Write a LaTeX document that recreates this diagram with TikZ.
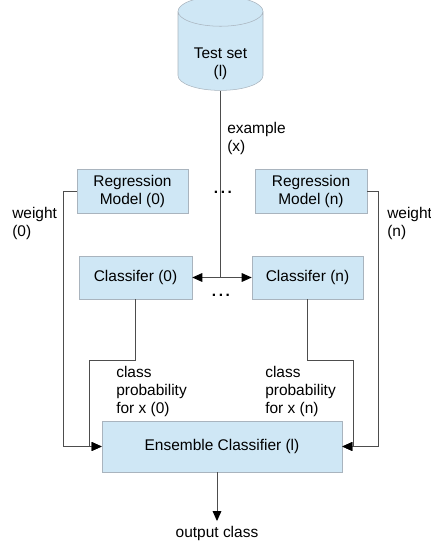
\documentclass[tikz,border=0pt]{standalone}
\usepackage{fontspec}
\setmainfont{Liberation Sans}
\usetikzlibrary{arrows.meta,shapes.geometric}

\definecolor{boxfill}{HTML}{CFE7F5}
\definecolor{boxline}{HTML}{A9B4BE}
\definecolor{wirecol}{HTML}{4D4D4D}

\tikzset{
    every node/.style={font=\fontsize{11.6}{13.5}\selectfont},
    block/.style={draw=boxline, fill=boxfill, align=center, inner sep=0pt, minimum height=33pt},
    tag/.style={align=left, inner sep=0pt, anchor=north west},
    wire/.style={draw=wirecol, line width=0.75pt},
    tip/.tip={Triangle[length=7.5pt,width=6.5pt,color=black]},
    arr/.style={wire, -tip},
}

\begin{document}
\begin{tikzpicture}[x=0.75pt,y=-0.75pt]
        \useasboundingbox (0,0) rectangle (431,547);
        \node[cylinder, shape border rotate=90, aspect=0.56, draw=boxline, fill=boxfill, inner sep=0pt, minimum width=63.75pt, minimum height=70.5pt] (test) at (220.5,51) {\raisebox{-9.5pt}[\height][\depth]{\begin{tabular}{@{}c@{}}Test set\\(l)\end{tabular}}};
        \node[block, minimum width=83.25pt] (reg0) at (132.5,191) {Regression\\Model (0)};
        \node[block, minimum width=84pt]    (regn) at (311,191)   {Regression\\Model (n)};
        \node[block, minimum width=84.75pt, minimum height=32.25pt] (cls0) at (135.5,277.5) {Classifer (0)};
        \node[block, minimum width=83.25pt, minimum height=32.25pt] (clsn) at (307.5,277.5) {Classifer (n)};
        \node[block, minimum width=180pt, minimum height=38.25pt] (ens) at (222,446.5) {Ensemble Classifier (l)};
        \node (dots1) at (223,192) {\textbf{.\,.\,.}};
        \node (dots2) at (221,295) {\textbf{.\,.\,.}};
        \node (out) at (217,533) {output class};
        \coordinate (bend0) at (89,360);
        \coordinate (bendn) at (353,360);
        \draw[wire] (test.south) -- (test.south |- cls0.east);
        \draw[wire, tip-tip] (cls0.east) -- (clsn.west);
        \draw[arr] (reg0.west) -- ++(-13,0) |- (ens.west);
        \draw[arr] (regn.east) -- ++(11,0) |- (ens.east);
        \draw[arr] (cls0.south) |- (bend0) |- (ens.west);
        \draw[arr] (clsn.south) |- (bendn) |- (ens.east);
        \draw[arr] (ens.south -| out.north) -- (out.north);
        \node[tag] (ex) at (227,122) {example\\(x)};
        \node[tag] (w0) at (12,207) {weight\\(0)};
        \node[tag] (wn) at (387,207) {weight\\(n)};
        \node[tag] (p0) at (116,366) {class\\probability\\for x (0)};
        \node[tag] (pn) at (265,366) {class\\probability\\for x (n)};
    \end{tikzpicture}
\end{document}
